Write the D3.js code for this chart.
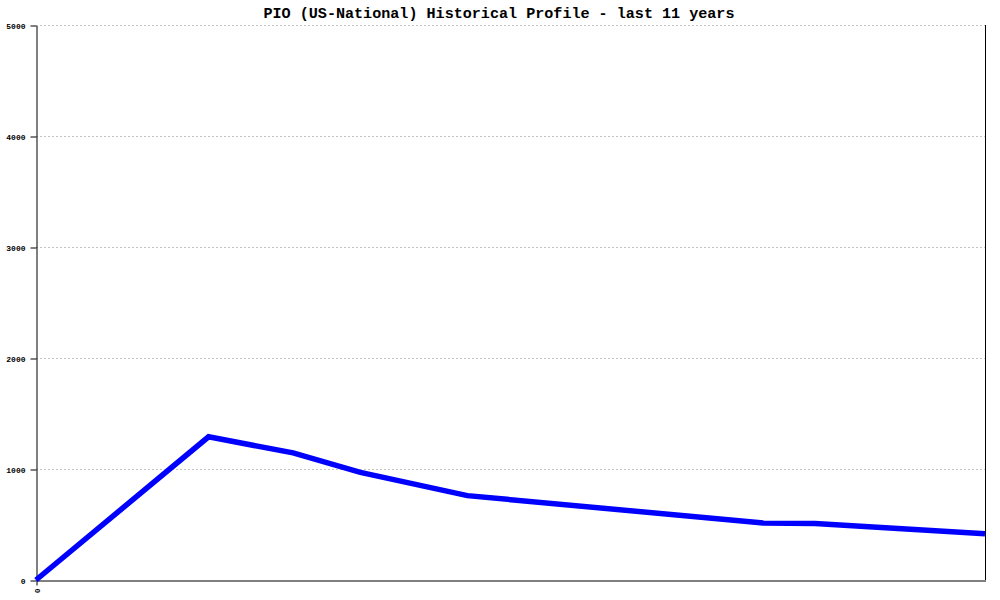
<!DOCTYPE html>
<html>
<head>
<meta charset="utf-8">
<script src="https://cdn.jsdelivr.net/npm/d3@7"></script>
<style>
  body { margin: 0; background: #fff; }
  svg { display: block; }
</style>
</head>
<body>
<svg id="chart" width="1000" height="600"></svg>
<script>
const title = "PIO (US-National) Historical Profile - last 11 years";
// x position in years from start of the 11-year window
const years = [0, 2.0, 2.98, 3.76, 5.0, 8.43, 9.03, 11];
const values = [0, 1290, 1145, 970, 760, 513, 510, 417];
const yTicks = [0, 1000, 2000, 3000, 4000, 5000];
const xTickLabels = ["0"];

const svg = d3.select("#chart");
const mLeft = 36, mRight = 985, mTop = 25, mBottom = 580;

const x = d3.scaleLinear().domain([0, 11]).range([mLeft, mRight]);
const y = d3.scaleLinear().domain([0, 5000]).range([mBottom, mTop]);

// gridlines
svg.append("g").selectAll("line").data(yTicks.filter(d => d > 0)).join("line")
  .attr("x1", mLeft).attr("x2", mRight)
  .attr("y1", d => y(d) + 0.5).attr("y2", d => y(d) + 0.5)
  .attr("stroke", "#c4c4c4").attr("stroke-width", 1)
  .attr("stroke-dasharray", "2,2");

// right border
svg.append("line").attr("x1", mRight + 0.5).attr("x2", mRight + 0.5)
  .attr("y1", mTop).attr("y2", mBottom).attr("stroke", "#000");

// y axis
const yAxis = d3.axisLeft(y).tickValues(yTicks).tickSize(6).tickSizeOuter(0).tickPadding(5)
  .tickFormat(d3.format("d"));
const gy = svg.append("g").attr("transform", `translate(${mLeft + 0.5},0.5)`).call(yAxis);
gy.select(".domain").attr("stroke", "#000");
gy.selectAll(".tick line").attr("stroke", "#000");
gy.selectAll("text").attr("font-family", "'Liberation Mono', 'DejaVu Sans Mono', monospace")
  .attr("font-size", 8).attr("font-weight", "bold").attr("fill", "#000");

// x axis
const xAxis = d3.axisBottom(x).tickValues([0]).tickSize(5).tickSizeOuter(0)
  .tickFormat((d, i) => xTickLabels[i]);
const gx = svg.append("g").attr("transform", `translate(0.5,${mBottom + 0.5})`).call(xAxis);
gx.select(".domain").attr("stroke", "#000");
gx.selectAll(".tick line").attr("stroke", "#000");
gx.selectAll("text")
  .attr("font-family", "'Liberation Mono', 'DejaVu Sans Mono', monospace")
  .attr("font-size", 8).attr("font-weight", "bold").attr("fill", "#000")
  .attr("transform", "rotate(-90)")
  .attr("text-anchor", "end").attr("dy", "0.35em").attr("x", -8).attr("y", 0);

// data line
const pts = years.map((yr, i) => [yr, values[i]]);
svg.append("path").datum(pts)
  .attr("fill", "none").attr("stroke", "#0000ff").attr("stroke-width", 5.5)
  .attr("stroke-linejoin", "miter")
  .attr("d", d3.line().x(d => x(d[0])).y(d => y(d[1])));

// title
svg.append("text").attr("x", 499).attr("y", 18).attr("text-anchor", "middle")
  .attr("font-family", "'Liberation Mono', 'DejaVu Sans Mono', monospace")
  .attr("font-size", 15.1).attr("font-weight", "bold").attr("fill", "#000")
  .text(title);
</script>
</body>
</html>
